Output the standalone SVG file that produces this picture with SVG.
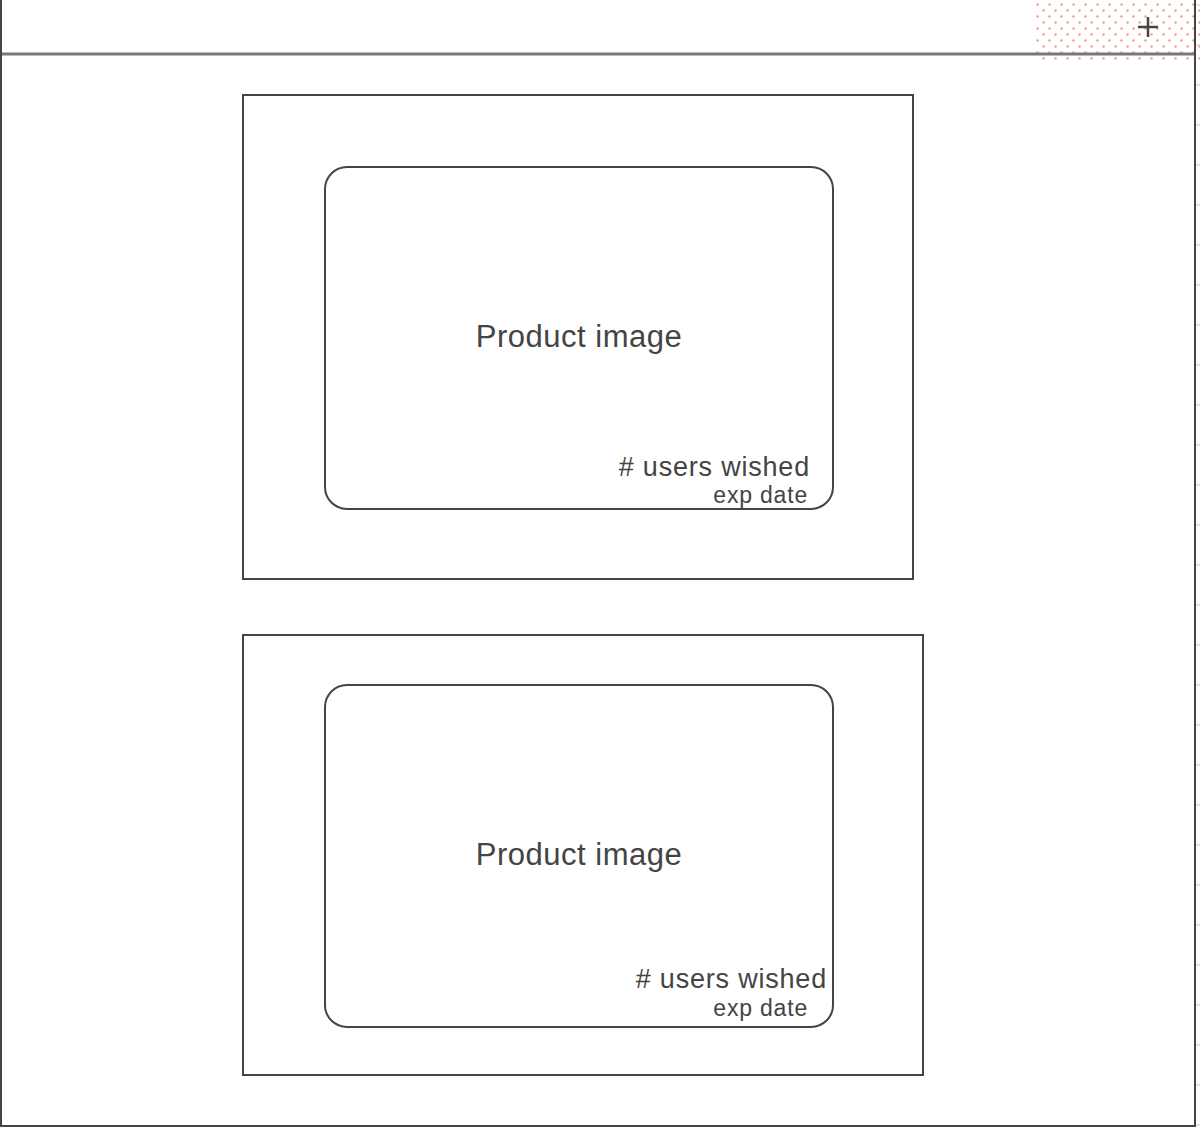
<svg xmlns="http://www.w3.org/2000/svg" width="1200" height="1128" viewBox="0 0 1200 1128">
<defs>
<pattern id="dots" x="1036" y="0" width="12" height="12" patternUnits="userSpaceOnUse">
<circle cx="1.5" cy="4.5" r="1.3" fill="#f4a090"/>
<circle cx="7.5" cy="10.5" r="1.3" fill="#f4a090"/>
</pattern>
<style>
.frame{fill:none;stroke:#444;stroke-width:2}
.card{fill:#fff;stroke:#444;stroke-width:2}
.t{font-family:"Liberation Sans",Arial,sans-serif;fill:#444}
.big{font-size:31px;letter-spacing:0.5px}
.mid{font-size:27px;letter-spacing:0.8px}
.sm{font-size:23px;letter-spacing:0.8px}
.tick{stroke:#e4e4e4;stroke-width:2}
</style>
</defs>
<rect width="1200" height="1128" fill="#fff"/>
<g id="ticks">
<path class="tick" d="M1196 5h4M1196 45h4M1196 85h4M1196 125h4M1196 165h4M1196 205h4M1196 245h4M1196 285h4M1196 325h4M1196 365h4M1196 405h4M1196 445h4M1196 485h4M1196 525h4M1196 565h4M1196 605h4M1196 645h4M1196 685h4M1196 725h4M1196 765h4M1196 805h4M1196 845h4M1196 885h4M1196 925h4M1196 965h4M1196 1005h4M1196 1045h4M1196 1085h4M1196 1125h4"/>
</g>
<g id="header">
<rect x="1036" y="0" width="164" height="62" fill="url(#dots)"/>
<line x1="0" y1="54" x2="1195" y2="54" stroke="#777" stroke-width="3"/>
<path d="M1148 17v20M1138 27h20" stroke="#444" stroke-width="2.5"/>
</g>
<g id="outer">
<rect class="frame" x="1" y="-1" width="1194" height="1127"/>
</g>
<g id="card1">
<rect class="card" x="243" y="95" width="670" height="484"/>
<rect class="card" x="325" y="167" width="508" height="342" rx="22"/>
<text class="t big" x="579" y="347" text-anchor="middle">Product image</text>
<text class="t mid" x="810" y="476" text-anchor="end"># users wished</text>
<text class="t sm" x="808" y="503" text-anchor="end">exp date</text>
</g>
<g id="card2">
<rect class="card" x="243" y="635" width="680" height="440"/>
<rect class="card" x="325" y="685" width="508" height="342" rx="22"/>
<text class="t big" x="579" y="865" text-anchor="middle">Product image</text>
<text class="t mid" x="827" y="988" text-anchor="end"># users wished</text>
<text class="t sm" x="808" y="1016" text-anchor="end">exp date</text>
</g>
</svg>
